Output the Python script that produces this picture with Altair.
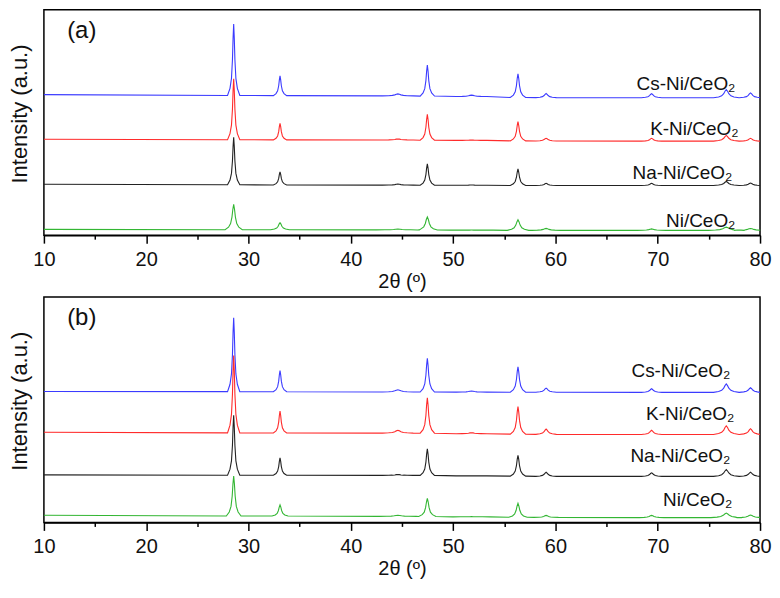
import altair as alt
import pandas as pd

# ---------------- data ----------------
SERIES = ["Cs-Ni/CeO₂", "K-Ni/CeO₂", "Na-Ni/CeO₂", "Ni/CeO₂"]
COLORS = ["#3b3bff", "#ff2b2b", "#222222", "#33b633"]

# diffraction peak positions (2θ, degrees) and their half widths
PEAKS = [28.55, 33.08, 44.6, 47.48, 51.8, 56.34, 59.09, 69.4, 76.7, 79.07]
HWHM = [0.12, 0.13, 0.3, 0.14, 0.3, 0.15, 0.2, 0.2, 0.25, 0.22]
# peak profile (offset in half widths, fraction of height)
PROFILE_U = [-5, -3, -1.8, -1, -0.5, 0, 0.5, 1, 1.8, 3, 5]
PROFILE_F = [0.0, 0.1, 0.24, 0.5, 0.8, 1.0, 0.8, 0.5, 0.24, 0.1, 0.0]

# panel (a): peak tops, baselines under each peak, baseline at 10° and 80°
A_TOPS = [
    [220, 166, 147.3, 177.3, 146, 168.3, 147.7, 147.5, 151.7, 148.3],
    [163, 116.5, 100.3, 126, 99.2, 118.3, 101, 101, 104, 101],
    [102, 66, 53.2, 74.3, 52.3, 69, 54, 54, 56, 54.3],
    [32, 13, 6.3, 19, 5.3, 16, 7, 6.5, 8.3, 7],
]
A_BASES = [
    [145.6, 145.5, 145.2, 145, 144.5, 143.5, 143.4, 143.3, 143.2, 143.2],
    [99.5, 99.3, 99.2, 99, 98.8, 98.3, 98.2, 98, 98, 98],
    [52.5, 52.3, 52.2, 52, 52, 51.8, 51.8, 51.8, 51.8, 51.8],
    [5.7, 5.6, 5.5, 5.4, 5.2, 5, 5, 5, 5, 5],
]
A_START = [146.5, 100, 53, 6]
A_END = [143.2, 98, 51.8, 5]
A_WIDTH = [1.0, 1.0, 1.0, 1.4]

# panel (b)
B_TOPS = [
    [213.3, 158.3, 138.3, 171, 137, 162.3, 140, 139.3, 144.3, 140.3],
    [174, 116, 96, 130, 93.5, 120.7, 97.3, 96, 100.7, 97.7],
    [111.7, 67.3, 50, 76.7, 48.5, 70, 52.3, 51.7, 55, 52.3],
    [48.3, 18.3, 7.5, 25, 6, 20, 7.3, 7.3, 9.7, 7.7],
]
B_BASES = [
    [136.3, 136.2, 136, 135.9, 135.8, 135.7, 135.7, 135.6, 135.6, 135.6],
    [93.3, 93.2, 93.1, 93, 92.5, 92, 91.8, 91.7, 91.7, 91.7],
    [49.2, 49.1, 49, 49, 48.5, 48.2, 48, 48, 48, 48],
    [6.7, 6.6, 6.3, 6.2, 5.8, 5.3, 5.2, 5, 5, 5],
]
B_START = [136.5, 94, 49.5, 7.5]
B_END = [135.6, 91.7, 48, 5]
B_WIDTH = [1.0, 1.0, 1.0, 1.2]

# series labels
A_LABEL_X = [77.6, 77.9, 77.3, 77.6]
A_LABEL_Y = [158, 111, 65, 15]
B_LABEL_X = [77.1, 77.5, 77.1, 77.3]
B_LABEL_Y = [158.3, 113.3, 69, 23.3]

PANEL_TAGS = ["(a)", "(b)"]
X_TICKS = [10, 15, 20, 25, 30, 35, 40, 45, 50, 55, 60, 65, 70, 75, 80]

FONT = "Liberation Sans"
W, H = 718, 226


def build_curves(tops, bases, start, end, wscale):
    rows = []
    for s, name in enumerate(SERIES):
        rows.append((name, s, 10.0, start[s]))
        for p, x0 in enumerate(PEAKS):
            w = HWHM[p] * wscale[s]
            for u, f in zip(PROFILE_U, PROFILE_F):
                x = x0 + u * w
                if 10 < x < 80:
                    rows.append((name, s, x, bases[s][p] + f * (tops[s][p] - bases[s][p])))
        rows.append((name, s, 80.0, end[s]))
    return pd.DataFrame(rows, columns=["series", "order", "angle", "intensity"])


def panel(tops, bases, start, end, wscale, lab_x, lab_y, tag):
    df = build_curves(tops, bases, start, end, wscale)
    xs = alt.Scale(domain=[10, 80], nice=False, zero=False)
    ys = alt.Scale(domain=[0, 235], nice=False, zero=False)
    xaxis = alt.Axis(
        values=X_TICKS,
        labelExpr="datum.value % 10 === 0 ? datum.label : ''",
        tickSize={"condition": {"test": "datum.value % 10 === 0", "value": 8}, "value": 4},
        labelPadding=6,
        titlePadding=2,
        grid=False,
        labelFlush=False,
        title="2θ (º)",
    )
    yaxis = alt.Axis(title="Intensity (a.u.)", labels=False, ticks=False, domain=False,
                     grid=False, titleFontSize=22, titlePadding=12, titleY=104)
    lines = alt.Chart(df).mark_line(strokeWidth=1.1, interpolate="linear").encode(
        x=alt.X("angle:Q", scale=xs, axis=xaxis),
        y=alt.Y("intensity:Q", scale=ys, axis=yaxis),
        color=alt.Color("series:N", scale=alt.Scale(domain=SERIES, range=COLORS), legend=None),
        detail="order:O",
    )
    ldf = pd.DataFrame({"name": SERIES, "x": lab_x, "y": lab_y})
    labels = alt.Chart(ldf).mark_text(align="right", baseline="middle", font=FONT,
                                      fontSize=19, color="#111111").encode(
        x=alt.X("x:Q", scale=xs), y=alt.Y("y:Q", scale=ys), text="name:N")
    tdf = pd.DataFrame({"tag": [tag], "x": [13.7], "y": [213]})
    tagm = alt.Chart(tdf).mark_text(align="center", baseline="middle", font=FONT,
                                    fontSize=24, color="#111111").encode(
        x=alt.X("x:Q", scale=xs), y=alt.Y("y:Q", scale=ys), text="tag:N")
    return alt.layer(lines, labels, tagm).properties(width=W, height=H)


pa = panel(A_TOPS, A_BASES, A_START, A_END, A_WIDTH, A_LABEL_X, A_LABEL_Y, PANEL_TAGS[0])
pb = panel(B_TOPS, B_BASES, B_START, B_END, B_WIDTH, B_LABEL_X, B_LABEL_Y, PANEL_TAGS[1])

chart = alt.vconcat(pa, pb, spacing=4).properties(
    padding={"left": 0, "top": 0, "right": 0, "bottom": 0}
).configure_view(
    stroke="black", strokeWidth=1.5
).configure_axis(
    labelFont=FONT, titleFont=FONT, labelFontSize=20, titleFontSize=20,
    titleFontWeight="normal", labelColor="#111111", titleColor="#111111",
    tickColor="black", domainColor="black", domainWidth=1.5, tickWidth=1.5,
)

chart.save("out.html", embed_options={"renderer": "svg", "actions": False})
